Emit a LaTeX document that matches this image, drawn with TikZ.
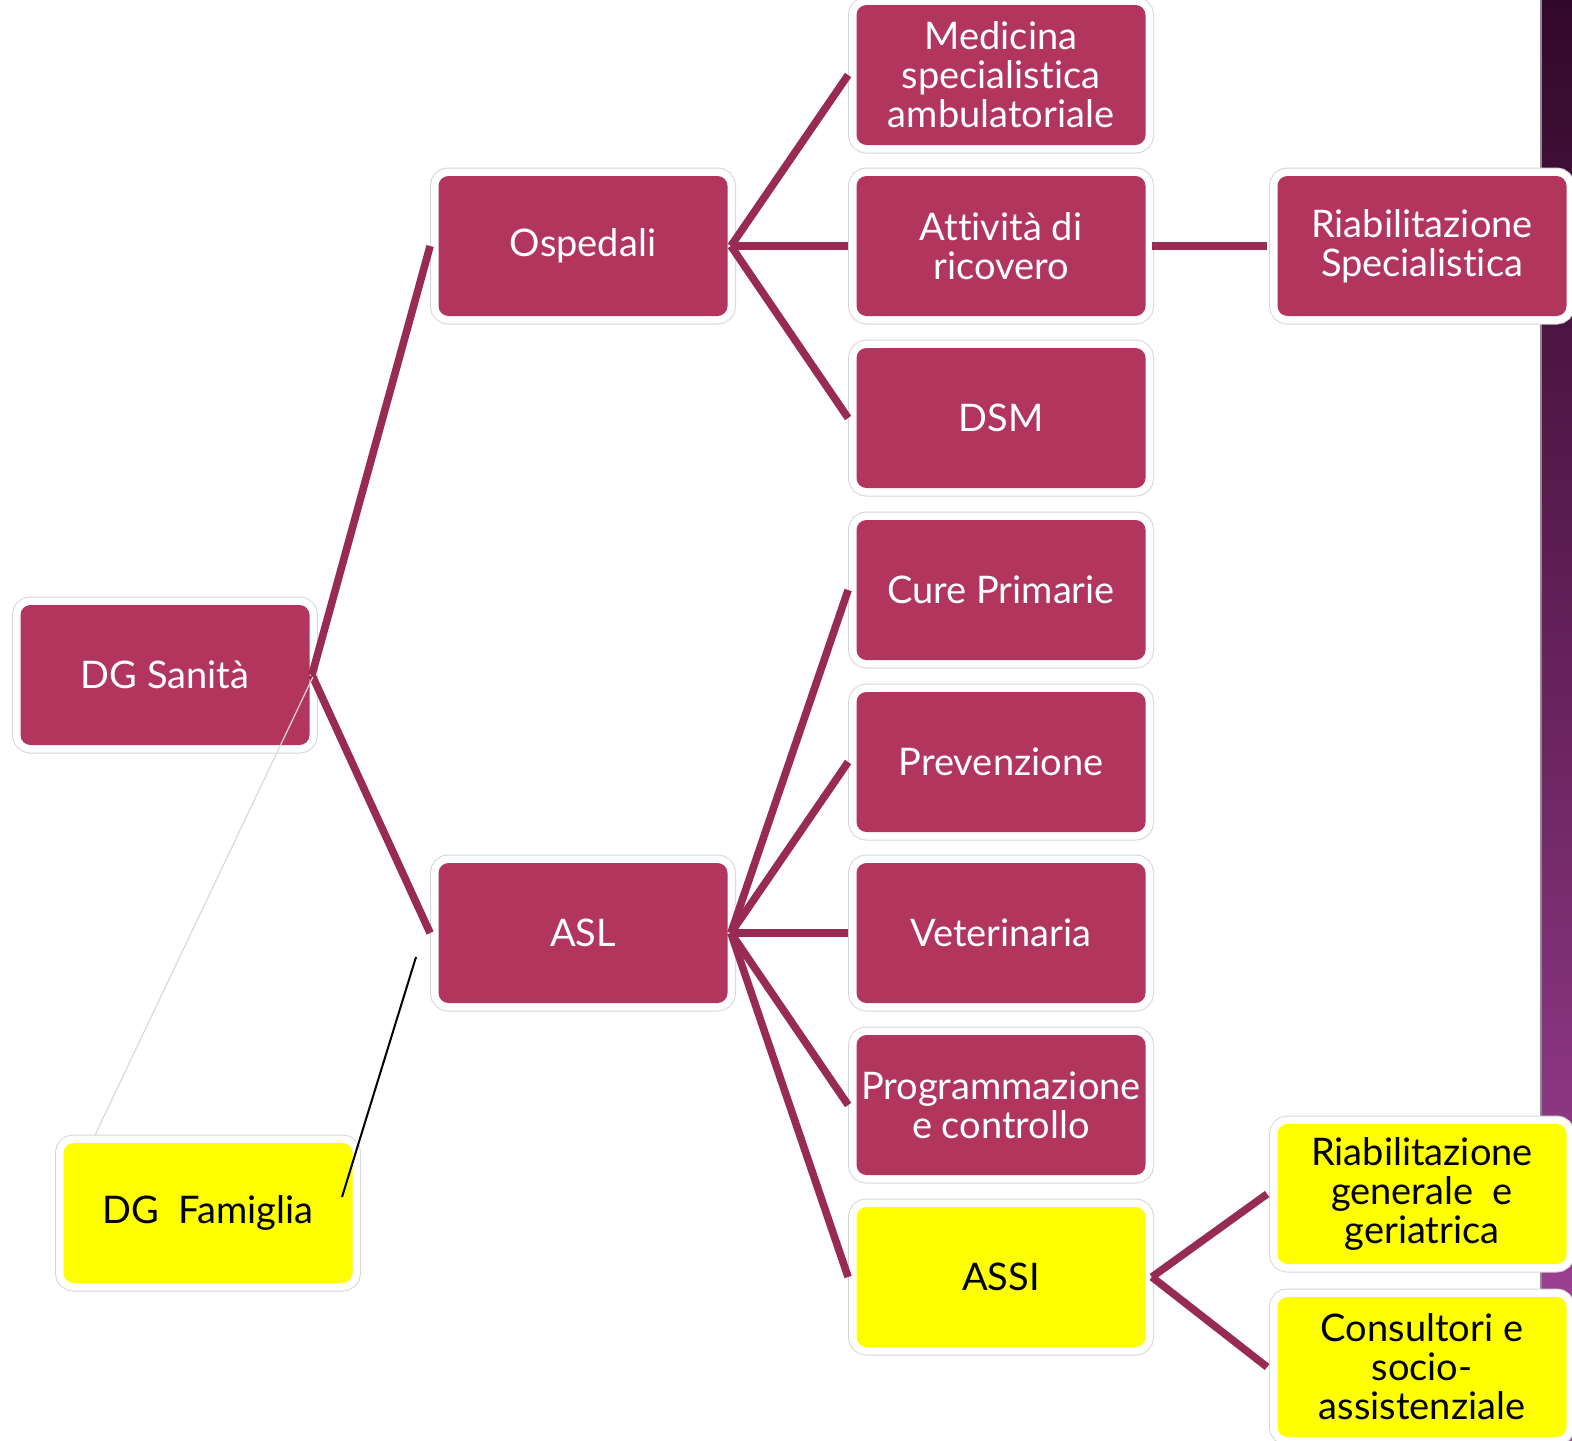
\documentclass[tikz,border=0pt]{standalone}
\usepackage{fontspec}
\setmainfont[Ligatures=NoCommon]{Lato}
\definecolor{boxfill}{HTML}{B1355D}
\definecolor{conn}{HTML}{982B53}
\definecolor{ringgray}{HTML}{D6D6D6}
\definecolor{yel}{HTML}{FFFF00}
\definecolor{stripA}{HTML}{32082A}
\definecolor{stripB}{HTML}{6A245F}
\definecolor{stripC}{HTML}{A8469E}
\begin{document}
\begin{tikzpicture}[x=0.5pt,y=-0.5pt,
  box/.style={rectangle, rounded corners=5pt, minimum width=144.5pt, minimum height=70pt,
    inner sep=0pt, align=center, font=\fontsize{19}{19.5}\selectfont,
    preaction={draw=ringgray, line width=8.5pt},
    preaction={draw=white, line width=7.5pt}},
  mag/.style={box, fill=boxfill, text=white},
  ylw/.style={box, fill=yel, text=black},
  link/.style={draw=conn, line width=3.8pt},
  faint/.style={draw=black!15, line width=0.6pt},
  thinblack/.style={draw=black, line width=1pt}]
\useasboundingbox (0,0) rectangle (1572,1440);
% right decorative strip
\shade[top color=stripA, bottom color=stripC, middle color=stripB] (1541,0) rectangle (1572,1440);
\draw[black!45, line width=0.6pt] (1541,0) -- (1541,1440);
% nodes
\node[mag] (dgs) at (165,675) {DG Sanità};
\node[ylw] (fam) at (208,1213) {DG~~Famiglia};
\node[mag] (osp) at (583,246) {Ospedali};
\node[mag] (asl) at (583,933) {ASL};
\node[mag] (med) at (1001,75) {Medicina\\specialistica\\ambulatoriale};
\node[mag] (att) at (1001,246) {Attività di\\ricovero};
\node[mag] (dsm) at (1001,418) {DSM};
\node[mag] (cure) at (1001,590) {Cure Primarie};
\node[mag] (prev) at (1001,762) {Prevenzione};
\node[mag] (vet) at (1001,933) {Veterinaria};
\node[mag] (prog) at (1001,1105) {Programmazione\\e controllo};
\node[ylw] (assi) at (1001,1277) {ASSI};
\node[mag] (riabs) at (1422,246) {Riabilitazione\\Specialistica};
\node[ylw] (riabg) at (1422,1194) {Riabilitazione\\generale~~e\\geriatrica};
\node[ylw] (cons) at (1422,1367) {Consultori e\\socio-\\assistenziale};
% connectors
\path[link] ([xshift=1pt]dgs.east) -- ([xshift=-4pt]osp.west);
\path[link] ([xshift=1pt]dgs.east) -- ([xshift=-4pt]asl.west);
\foreach \t in {med,att,dsm}
  \path[link] ([xshift=1.5pt]osp.east) -- ([xshift=-4pt]\t.west);
\foreach \t in {cure,prev,vet,prog,assi}
  \path[link] ([xshift=1.5pt]asl.east) -- ([xshift=-4pt]\t.west);
\path[link] ([xshift=3pt]att.east) -- ([xshift=-5pt]riabs.west);
\path[link] ([xshift=3pt]assi.east) -- ([xshift=-5pt]riabg.west);
\path[link] ([xshift=3pt]assi.east) -- ([xshift=-5pt]cons.west);
% thin lines
\coordinate (gEnd) at (95,1135);
\path[faint] ([xshift=1.5pt,yshift=-1pt]dgs.east) -- (gEnd);
\coordinate (bA) at (416,957);
\coordinate (bB) at (342,1197);
\path[thinblack] (bA) -- (bB);
\end{tikzpicture}
\end{document}
